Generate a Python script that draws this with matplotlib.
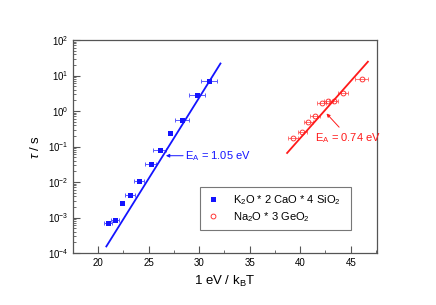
import numpy as np
import matplotlib
matplotlib.use("Agg")
import matplotlib.pyplot as plt
from matplotlib.lines import Line2D
from matplotlib.ticker import LogLocator, MultipleLocator

plt.rcParams['font.family'] = ['Liberation Sans', 'DejaVu Sans']
plt.rcParams['mathtext.fontset'] = 'custom'
plt.rcParams['mathtext.rm'] = 'Liberation Sans'
plt.rcParams['mathtext.it'] = 'Liberation Sans:italic'

# K2O * 2 CaO * 4 SiO2
k_x = [21.0, 21.7, 22.4, 23.1, 24.0, 25.2, 26.1, 27.1, 28.25, 29.8, 31.0]
k_tau = [0.00069, 0.00087, 0.0026, 0.0043, 0.011, 0.032, 0.081, 0.245, 0.56, 2.75, 6.8]
k_xerr = [0.4, 0.4, 0.0, 0.5, 0.5, 0.55, 0.65, 0.0, 0.7, 0.8, 0.8]
k_ea = 1.05
k_logc = -13.30
k_range = [20.8, 32.1]

# Na2O * 3 GeO2
n_x = [39.28, 40.2, 40.79, 41.46, 42.11, 42.77, 43.3, 44.23, 46.07]
n_tau = [0.17, 0.25, 0.50, 0.74, 1.66, 1.86, 1.95, 3.3, 8.1]
n_xerr = [0.45, 0.45, 0.45, 0.45, 0.45, 0.45, 0.45, 0.5, 0.6]
n_ea = 0.74
n_logc = -13.62
n_range = [38.7, 46.7]

blue = '#1414ff'
blue_err = '#5a5aff'
red = '#ff1a1a'
red_err = '#ff6060'
grey = '#555555'

fig = plt.figure(figsize=(4.36, 3.05), dpi=100)
ax = fig.add_axes([73/436, 1 - 253/305, 304/436, 213/305])

eb = ax.errorbar(k_x, k_tau, xerr=k_xerr, fmt='none', ecolor=blue_err,
                 elinewidth=0.7, capsize=1.5, capthick=0.7)
ax.plot(k_x, k_tau, ls='none', marker='s', ms=3.6, mew=0, color=blue, zorder=3)
ax.errorbar(n_x, n_tau, xerr=n_xerr, fmt='none', ecolor=red_err,
            elinewidth=0.6, capsize=1.5, capthick=0.6)
ax.plot(n_x, n_tau, ls='none', marker='o', ms=3.5, mew=0.6, color=red, mfc='none', zorder=3)

xs = np.array(k_range)
ax.plot(xs, 10 ** (k_ea / np.log(10) * xs + k_logc), color=blue, lw=1.3)
xs = np.array(n_range)
ax.plot(xs, 10 ** (n_ea / np.log(10) * xs + n_logc), color=red, lw=1.3)

# activation energy labels
ax.annotate('', xy=(26.7, 0.055), xytext=(28.4, 0.055),
            arrowprops=dict(arrowstyle='-|>', color=blue, lw=0.7, mutation_scale=5,
                            shrinkA=0, shrinkB=0))
ax.text(28.6, 0.055, r'E$_\mathrm{A}$ = 1.05 eV', color=blue, fontsize=8, va='center')
ax.annotate('', xy=(42.6, 0.85), xytext=(43.85, 0.35),
            arrowprops=dict(arrowstyle='-|>', color=red, lw=0.7, mutation_scale=5,
                            shrinkA=0, shrinkB=0))
ax.text(41.5, 0.17, r'E$_\mathrm{A}$ = 0.74 eV', color=red, fontsize=8, va='center')

ax.set_yscale('log')
ax.set_xlim(17.5, 47.6)
ax.set_ylim(1e-4, 1e2)
ax.xaxis.set_major_locator(MultipleLocator(5))
ax.xaxis.set_minor_locator(MultipleLocator(2.5))
ax.yaxis.set_major_locator(LogLocator(base=10, numticks=10))
ax.yaxis.set_minor_locator(LogLocator(base=10, subs=np.arange(2, 10), numticks=10))

ax.tick_params(which='both', direction='in', colors=grey, labelcolor='black', labelsize=7,
               top=False, right=False)
ax.tick_params(which='major', length=5, width=0.8)
ax.tick_params(which='minor', length=2.5, width=0.6)
for s in ax.spines.values():
    s.set_color(grey)
    s.set_linewidth(0.9)

ax.set_xlabel(r'1 eV / k$_\mathrm{B}$T', fontsize=9.5)
ax.set_ylabel(r'$\tau$ / s', fontsize=9.5)

handles = [Line2D([], [], ls='none', marker='s', ms=3.6, mew=0, color=blue),
           Line2D([], [], ls='none', marker='o', ms=3.5, mew=0.6, color=red, mfc='none')]
labels = [r'K$_2$O * 2 CaO * 4 SiO$_2$', r'Na$_2$O * 3 GeO$_2$']
leg = ax.legend(handles, labels, loc='center left',
                bbox_to_anchor=(200/436, 1 - 229/305, 151/436, 41/305),
                bbox_transform=fig.transFigure, mode='expand', fontsize=8,
                frameon=True, fancybox=False, handletextpad=1.2, handlelength=1.2,
                borderpad=0.6, labelspacing=0.25, borderaxespad=0)
leg.get_frame().set_edgecolor(grey)
leg.get_frame().set_linewidth(0.8)

fig.savefig('out.png', dpi=100)
